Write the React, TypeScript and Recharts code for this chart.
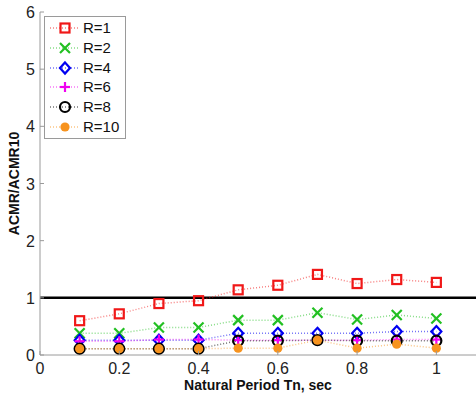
import React from 'react';
import { LineChart, Line, XAxis, YAxis, ReferenceLine } from 'recharts';

// natural period (sec)
const periods = [0.1, 0.2, 0.3, 0.4, 0.5, 0.6, 0.7, 0.8, 0.9, 1.0];

const r1 = [0.6, 0.72, 0.9, 0.95, 1.14, 1.22, 1.41, 1.25, 1.32, 1.27];
const r2 = [0.38, 0.38, 0.48, 0.48, 0.61, 0.61, 0.74, 0.62, 0.7, 0.64];
const r4 = [0.26, 0.26, 0.26, 0.26, 0.38, 0.38, 0.38, 0.38, 0.41, 0.41];
const r6 = [0.24, 0.24, 0.27, 0.27, 0.26, 0.26, 0.26, 0.26, 0.27, 0.27];
const r8 = [0.11, 0.11, 0.11, 0.11, 0.25, 0.25, 0.26, 0.25, 0.25, 0.25];
const r10 = [0.11, 0.11, 0.11, 0.11, 0.12, 0.12, 0.26, 0.12, 0.19, 0.12];

const xTicks = [0, 0.2, 0.4, 0.6, 0.8, 1];
const yTicks = [0, 1, 2, 3, 4, 5, 6];

type Shape = 'square' | 'x' | 'diamond' | 'plus' | 'circle' | 'dot';

const series: { key: string; name: string; color: string; shape: Shape; values: number[] }[] = [
  { key: 'r1', name: 'R=1', color: '#f01818', shape: 'square', values: r1 },
  { key: 'r2', name: 'R=2', color: '#22c022', shape: 'x', values: r2 },
  { key: 'r4', name: 'R=4', color: '#0000f0', shape: 'diamond', values: r4 },
  { key: 'r6', name: 'R=6', color: '#f000f0', shape: 'plus', values: r6 },
  { key: 'r8', name: 'R=8', color: '#000000', shape: 'circle', values: r8 },
  { key: 'r10', name: 'R=10', color: '#f7931e', shape: 'dot', values: r10 },
];

const data = periods.map((t, i) => {
  const row: Record<string, number> = { t };
  series.forEach((s) => {
    row[s.key] = s.values[i];
  });
  return row;
});

const FONT = '"Liberation Sans", Arial, sans-serif';
const AXIS = '#9a9a9a';

const Marker: React.FC<{ shape: Shape; color: string; cx: number; cy: number }> = ({ shape, color, cx, cy }) => {
  switch (shape) {
    case 'square':
      return <rect x={cx - 4.5} y={cy - 4.5} width={9} height={9} fill="none" stroke={color} strokeWidth={2.2} />;
    case 'x':
      return (
        <g stroke={color} strokeWidth={2.2}>
          <line x1={cx - 5} y1={cy - 5} x2={cx + 5} y2={cy + 5} />
          <line x1={cx - 5} y1={cy + 5} x2={cx + 5} y2={cy - 5} />
        </g>
      );
    case 'diamond':
      return (
        <polygon
          points={`${cx},${cy - 5.5} ${cx + 5},${cy} ${cx},${cy + 5.5} ${cx - 5},${cy}`}
          fill="none"
          stroke={color}
          strokeWidth={2.2}
        />
      );
    case 'plus':
      return (
        <g stroke={color} strokeWidth={2.2}>
          <line x1={cx - 5} y1={cy} x2={cx + 5} y2={cy} />
          <line x1={cx} y1={cy - 5} x2={cx} y2={cy + 5} />
        </g>
      );
    case 'circle':
      return <circle cx={cx} cy={cy} r={5} fill="none" stroke={color} strokeWidth={2.2} />;
    default:
      return <circle cx={cx} cy={cy} r={4.6} fill={color} />;
  }
};

const YTick = (props: any) => {
  const { x, y, payload } = props;
  return (
    <g>
      <line x1={x} y1={y} x2={x + 4} y2={y} stroke={AXIS} />
      <text x={x - 5} y={y + 6} textAnchor="end" fontSize={16} fontFamily={FONT} fill="#222">
        {payload.value}
      </text>
    </g>
  );
};

const XTick = (props: any) => {
  const { x, y, payload } = props;
  return (
    <g>
      <line x1={x} y1={y} x2={x} y2={y - 4} stroke={AXIS} />
      <text x={x} y={y + 19} textAnchor="middle" fontSize={16} fontFamily={FONT} fill="#222">
        {String(payload.value)}
      </text>
    </g>
  );
};

const LegendBox = () => (
  <div
    style={{
      position: 'absolute',
      left: 44,
      top: 16,
      border: `1px solid ${AXIS}`,
      background: '#fff',
      width: 80,
      padding: '1px 0 1px 0',
      fontFamily: FONT,
      fontSize: 15,
      color: '#111',
    }}
  >
    {series.map((s) => (
      <div key={s.key} style={{ display: 'flex', alignItems: 'center', height: 19.8 }}>
        <svg width={38} height={20} style={{ flex: 'none' }}>
          <line x1={5} y1={10} x2={35} y2={10} stroke={s.color} strokeWidth={1.5} strokeDasharray="1 2" strokeOpacity={0.55} />
          <Marker shape={s.shape} color={s.color} cx={20} cy={10} />
        </svg>
        <span style={{ lineHeight: '20px' }}>{s.name}</span>
      </div>
    ))}
  </div>
);

export default function App() {
  return (
    <div style={{ position: 'absolute', left: 0, top: 0, width: 476, height: 398, background: '#fff' }}>
      <LineChart width={476} height={398} data={data} margin={{ top: 12, right: 0, bottom: 0, left: 0 }}>
        <XAxis
          dataKey="t"
          type="number"
          domain={[0, 1.1]}
          ticks={xTicks}
          height={43}
          stroke={AXIS}
          tickLine={false}
          tickSize={0}
          tickMargin={0}
          tick={<XTick />}
          interval={0}
          label={{
            content: (p: any) => {
              const vb = p.viewBox;
              return (
                <text x={vb.x + vb.width / 2} y={390} textAnchor="middle" fontSize={14} fontWeight="bold" fontFamily={FONT} fill="#111">
                  Natural Period Tn, sec
                </text>
              );
            },
          }}
        />
        <YAxis
          type="number"
          domain={[0, 6]}
          ticks={yTicks}
          width={40}
          stroke={AXIS}
          tickLine={false}
          tickSize={0}
          tickMargin={0}
          tick={<YTick />}
          interval={0}
          label={{
            content: () => (
              <text
                x={19}
                y={183.5}
                transform="rotate(-90 19 183.5)"
                textAnchor="middle"
                fontSize={14}
                fontWeight="bold"
                fontFamily={FONT}
                fill="#111"
              >
                ACMR/ACMR10
              </text>
            ),
          }}
        />
        <ReferenceLine y={1} stroke="#000" strokeWidth={2.5} />
        {series.map((s) => (
          <Line
            key={s.key}
            dataKey={s.key}
            name={s.name}
            stroke={s.color}
            strokeWidth={1.5}
            strokeDasharray="1 2"
            strokeOpacity={0.55}
            isAnimationActive={false}
            activeDot={false}
            dot={(p: any) => <Marker key={`${s.key}-${p.index}`} shape={s.shape} color={s.color} cx={p.cx} cy={p.cy} />}
          />
        ))}
      </LineChart>
      <LegendBox />
    </div>
  );
}
